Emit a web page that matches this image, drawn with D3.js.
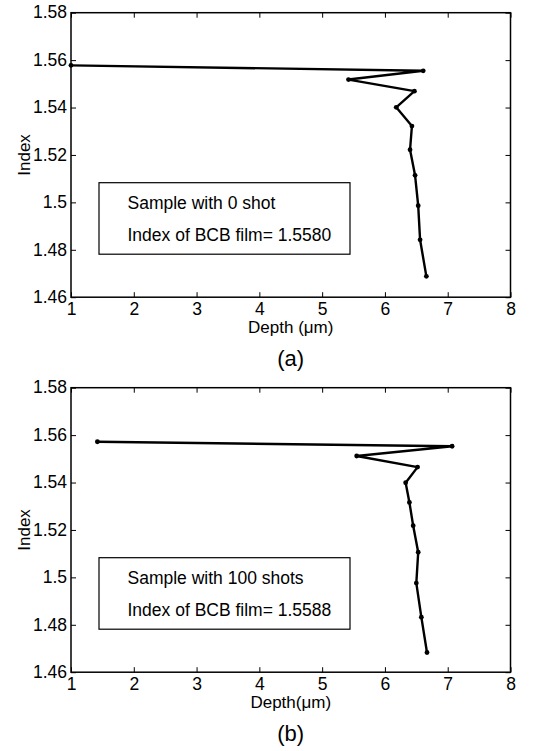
<!DOCTYPE html>
<html>
<head>
<meta charset="utf-8">
<script src="https://cdn.jsdelivr.net/npm/d3@7"></script>
<style>
  body { margin: 0; background: #fff; }
  svg { display: block; font-family: "Liberation Sans", Arial, sans-serif; }
</style>
</head>
<body>
<div id="chart"></div>
<script>
const X_TICKS = [1, 2, 3, 4, 5, 6, 7, 8];
const Y_TICKS = [1.46, 1.48, 1.5, 1.52, 1.54, 1.56, 1.58];

// panel (a): sample with 0 shot
const DEPTH_A = [1.0, 6.61, 5.42, 6.47, 6.18, 6.43, 6.40, 6.48, 6.53, 6.56, 6.66];
const INDEX_A = [1.5578, 1.5555, 1.5518, 1.5469, 1.5401, 1.5322, 1.5222, 1.5114, 1.4986, 1.4842, 1.4688];

// panel (b): sample with 100 shots
const DEPTH_B = [1.42, 7.07, 5.55, 6.52, 6.33, 6.39, 6.45, 6.53, 6.50, 6.58, 6.67];
const INDEX_B = [1.5572, 1.5553, 1.5512, 1.5465, 1.5399, 1.5316, 1.5218, 1.5106, 1.4976, 1.4832, 1.4683];

const PANELS = [
  { depth: DEPTH_A, index: INDEX_A, top: 12.7, xLabel: "Depth (\u03bcm)", caption: "(a)",
    legend: ["Sample with 0 shot", "Index of BCB film= 1.5580"] },
  { depth: DEPTH_B, index: INDEX_B, top: 387.7, xLabel: "Depth(\u03bcm)", caption: "(b)",
    legend: ["Sample with 100 shots", "Index of BCB film= 1.5588"] },
];

const width = 541;
const height = 751;
const plotLeft = 71;
const plotRight = 510.5;
const plotHeight = 284.5;
const FONT = '"Liberation Sans", Arial, sans-serif';

const svg = d3.select("#chart").append("svg").attr("width", width).attr("height", height);

function styleAxis(a) {
  a.attr("font-family", FONT).attr("font-size", 17.5);
  a.select(".domain").remove();
  a.selectAll("text").attr("fill", "#000");
  a.selectAll(".tick line").attr("stroke", "#000").attr("stroke-width", 1);
}

function drawPanel(panel) {
  const top = panel.top;
  const bottom = top + plotHeight;
  const x = d3.scaleLinear().domain([1, 8]).range([plotLeft, plotRight]);
  const y = d3.scaleLinear().domain([1.46, 1.58]).range([bottom, top]);
  const g = svg.append("g");

  g.append("g")
    .attr("transform", `translate(0, ${bottom})`)
    .call(d3.axisBottom(x).tickValues(X_TICKS).tickFormat(d3.format("d")).tickSizeInner(-5).tickSizeOuter(0).tickPadding(5))
    .call(styleAxis);

  g.append("g")
    .attr("transform", `translate(0, ${top})`)
    .call(d3.axisTop(x).tickValues(X_TICKS).tickFormat("").tickSizeInner(-5).tickSizeOuter(0))
    .call(styleAxis);

  g.append("g")
    .attr("transform", `translate(${plotLeft}, 0)`)
    .call(d3.axisLeft(y).tickValues(Y_TICKS).tickFormat((d) => String(+d.toFixed(2))).tickSizeInner(-5).tickSizeOuter(0).tickPadding(4))
    .call(styleAxis)
    .call((a) => a.selectAll("text").attr("dy", "0.3em"));

  g.append("g")
    .attr("transform", `translate(${plotRight}, 0)`)
    .call(d3.axisRight(y).tickValues(Y_TICKS).tickFormat("").tickSizeInner(-5).tickSizeOuter(0))
    .call(styleAxis);

  g.append("rect")
    .attr("x", plotLeft).attr("y", top)
    .attr("width", plotRight - plotLeft).attr("height", plotHeight)
    .attr("fill", "none").attr("stroke", "#000").attr("stroke-width", 1.5);

  const pts = panel.depth.map((d, i) => [d, panel.index[i]]);

  g.append("path")
    .datum(pts)
    .attr("fill", "none")
    .attr("stroke", "#000")
    .attr("stroke-width", 2.4)
    .attr("stroke-linejoin", "round")
    .attr("d", d3.line().x((d) => x(d[0])).y((d) => y(d[1])));

  g.selectAll("circle.pt")
    .data(pts)
    .join("circle")
    .attr("class", "pt")
    .attr("cx", (d) => x(d[0]))
    .attr("cy", (d) => y(d[1]))
    .attr("r", 2.4)
    .attr("fill", "#000");

  // legend box
  const boxTop = top + 170;
  g.append("rect")
    .attr("x", 99).attr("y", boxTop)
    .attr("width", 251).attr("height", 71.5)
    .attr("fill", "#fff").attr("stroke", "#000").attr("stroke-width", 1.2);

  g.selectAll("text.legend")
    .data(panel.legend)
    .join("text")
    .attr("class", "legend")
    .attr("x", 127.5)
    .attr("y", (d, i) => boxTop + 26 + i * 32)
    .attr("font-size", 17.5)
    .text((d) => d);

  g.append("text")
    .attr("x", (plotLeft + plotRight) / 2)
    .attr("y", bottom + 36)
    .attr("text-anchor", "middle")
    .attr("font-size", 17)
    .text(panel.xLabel);

  g.append("text")
    .attr("transform", `translate(30, ${(top + bottom) / 2}) rotate(-90)`)
    .attr("text-anchor", "middle")
    .attr("font-size", 17)
    .text("Index");

  g.append("text")
    .attr("x", (plotLeft + plotRight) / 2)
    .attr("y", bottom + 69)
    .attr("text-anchor", "middle")
    .attr("font-size", 22)
    .text(panel.caption);
}

PANELS.forEach(drawPanel);
</script>
</body>
</html>
